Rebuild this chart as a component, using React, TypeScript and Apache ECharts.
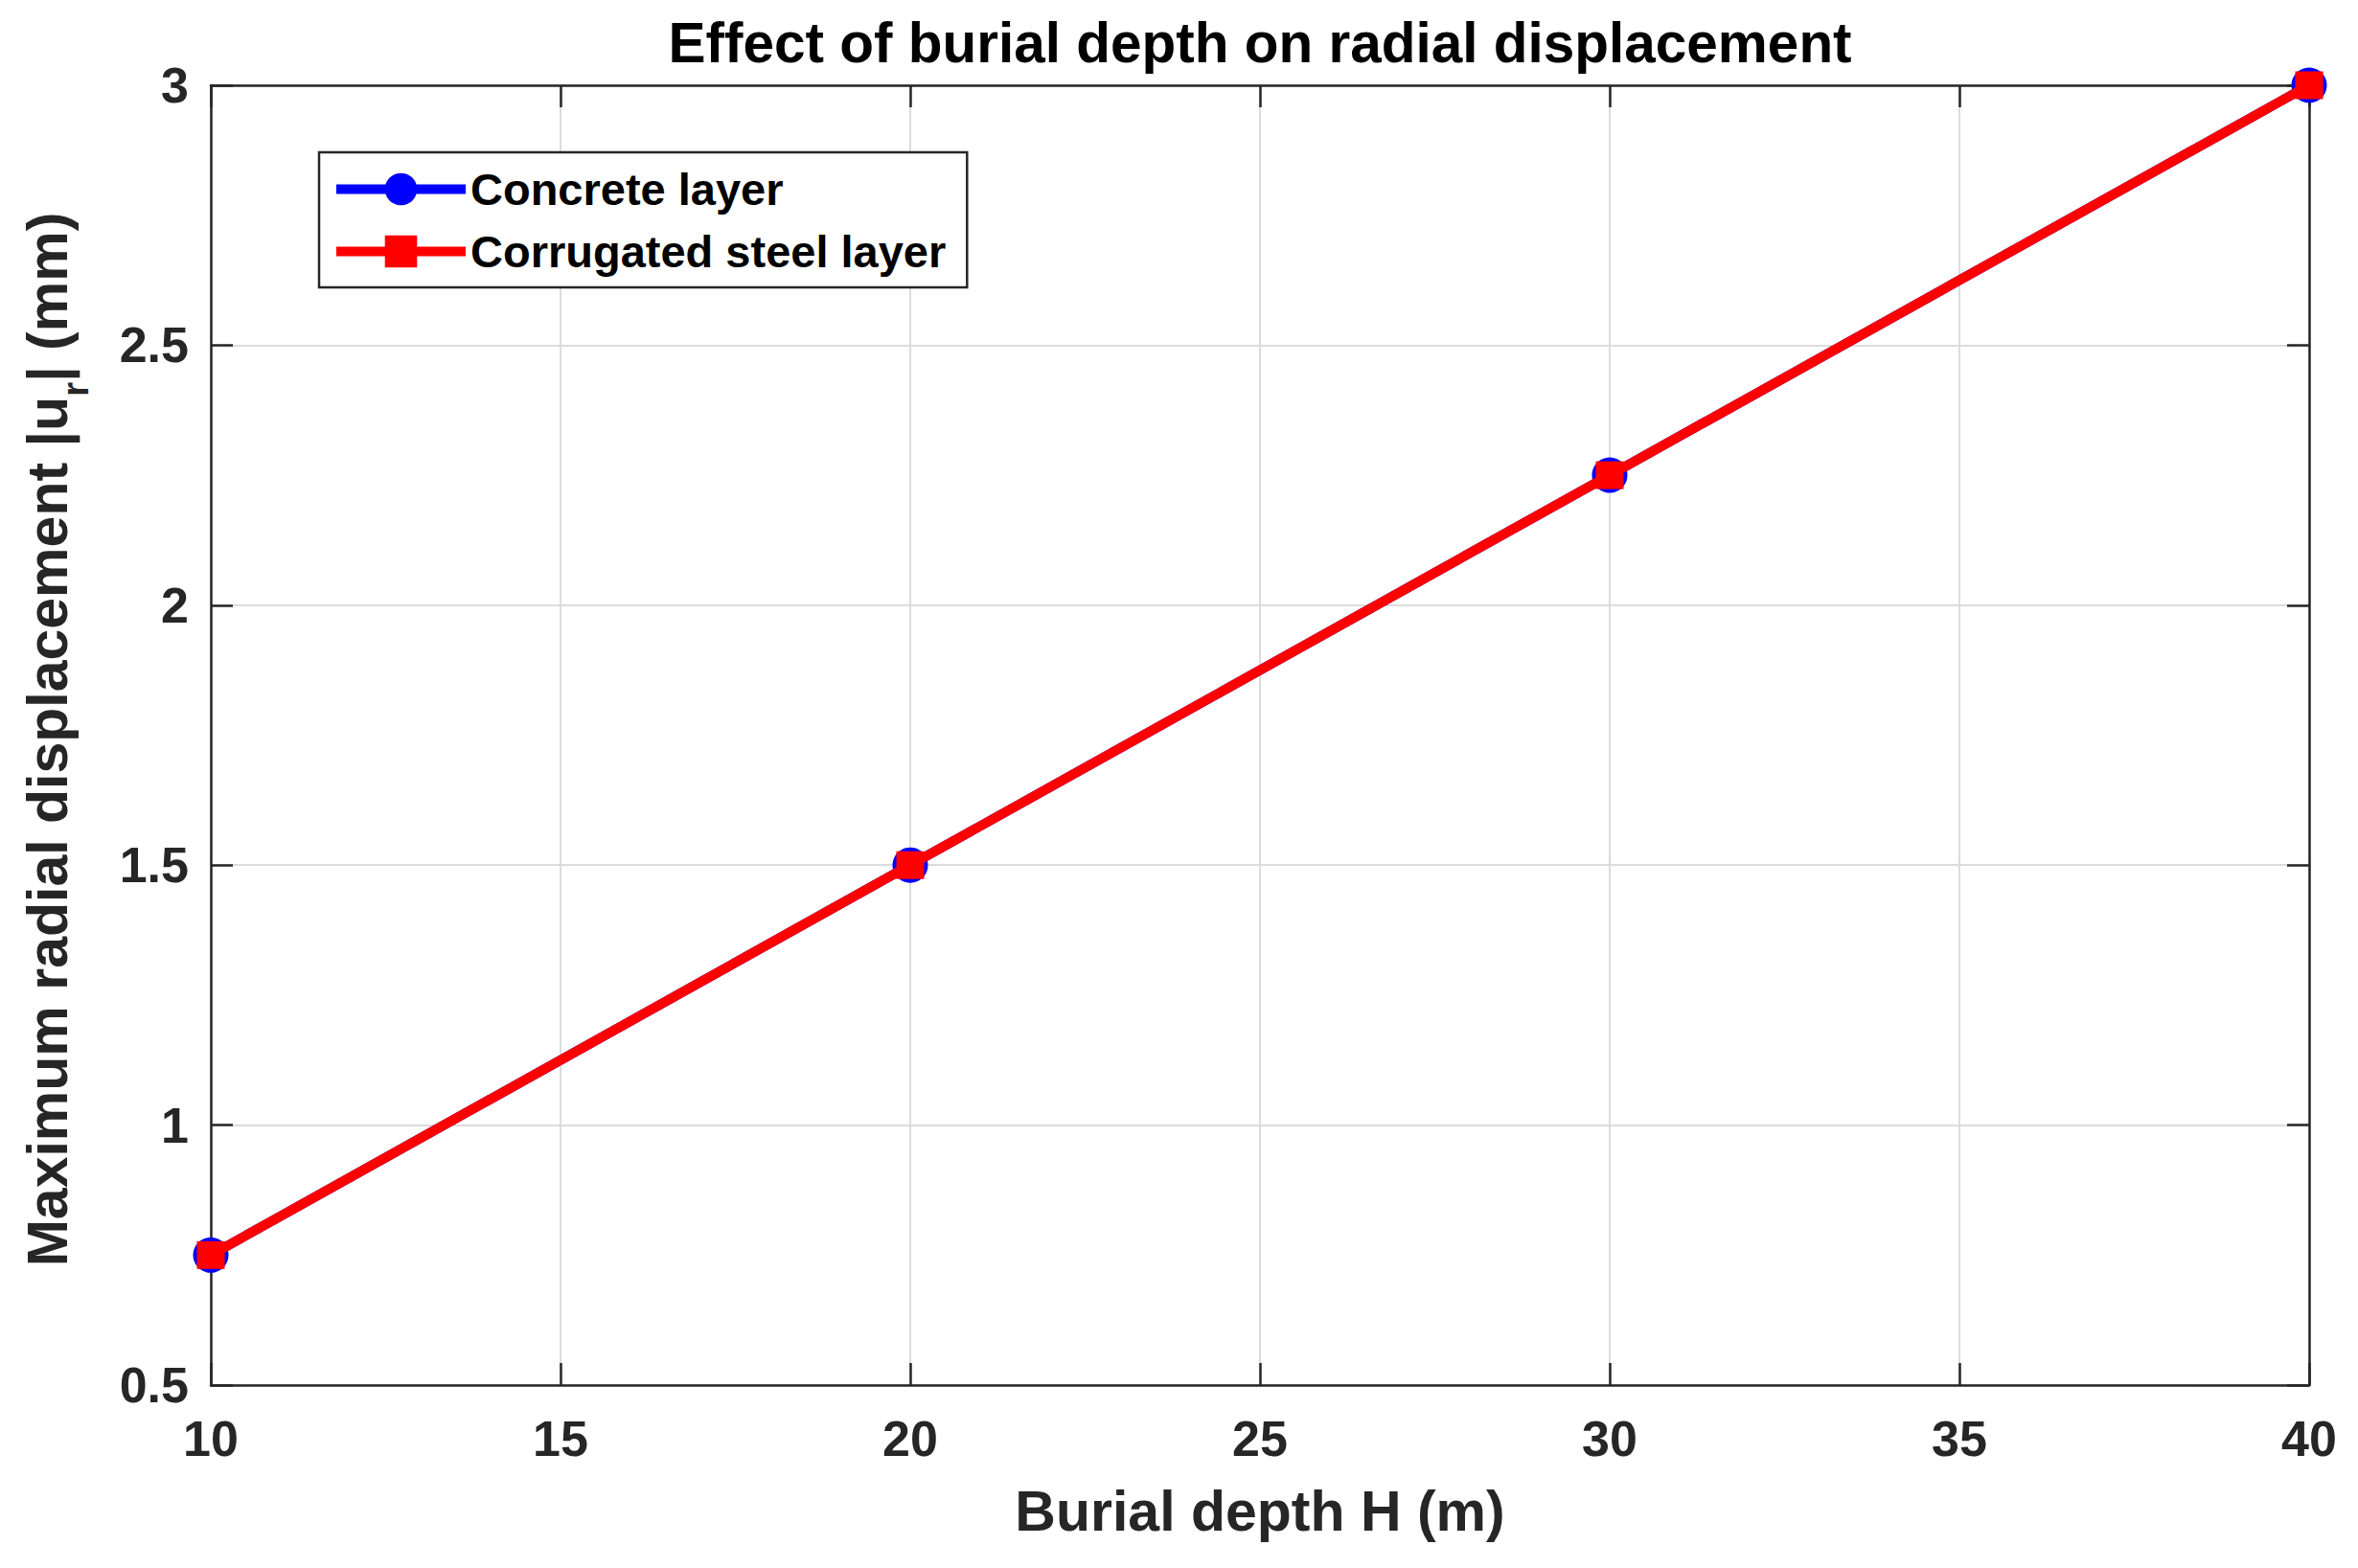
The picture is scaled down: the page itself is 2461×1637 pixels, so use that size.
import React, { useEffect, useRef } from "react";
import * as echarts from "echarts";

const depths = [10, 20, 30, 40];
const concrete = [0.75, 1.5, 2.25, 3.0];
const corrugated = [0.75, 1.5, 2.25, 3.0];
const seriesNames = ["Concrete layer", "Corrugated steel layer"];
const titleText = "Effect of burial depth on radial displacement";
const xLabel = "Burial depth H (m)";
const yLabelParts = ["Maximum radial displacement |u", "r", "| (mm)"];
const xRange = { min: 10, max: 40, interval: 5 };
const yRange = { min: 0.5, max: 3, interval: 0.5 };

const FONT = "'Liberation Sans', Arial, Helvetica, sans-serif";
const AX = "#262626";

export default function App() {
  const ref = useRef<HTMLDivElement>(null);
  useEffect(() => {
    document.body.style.margin = "0";
    const chart = echarts.init(ref.current!, null, { renderer: "svg" });
    const gridL = 220, gridT = 89, gridW = 2190, gridH = 1357;
    const axisCommon = {
      type: "value",
      axisLine: { show: true, lineStyle: { color: AX, width: 2.5 } },
      axisTick: { show: true, inside: true, length: 23, lineStyle: { color: AX, width: 2.5 } },
    };
    const option: any = {
      animation: false,
      backgroundColor: "#ffffff",
      grid: { left: gridL, top: gridT, width: gridW, height: gridH, containLabel: false },
      xAxis: [
        {
          ...axisCommon,
          ...xRange,
          position: "bottom",
          axisLabel: { fontSize: 52, fontWeight: "bold", color: AX, fontFamily: FONT, margin: 30 },
          splitLine: { show: true, lineStyle: { color: "#dcdcdc", width: 2 } },
        },
        {
          ...axisCommon,
          ...xRange,
          position: "top",
          axisLabel: { show: false },
          splitLine: { show: false },
        },
      ],
      yAxis: [
        {
          ...axisCommon,
          ...yRange,
          position: "left",
          axisLabel: { fontSize: 52, fontWeight: "bold", color: AX, fontFamily: FONT, margin: 23 },
          splitLine: { show: true, lineStyle: { color: "#dcdcdc", width: 2 } },
        },
        {
          ...axisCommon,
          ...yRange,
          position: "right",
          axisLabel: { show: false },
          splitLine: { show: false },
        },
      ],
      legend: {
        orient: "vertical",
        left: 333,
        top: 159,
        padding: [15, 22, 14, 13],
        itemGap: 18,
        itemWidth: 135,
        itemHeight: 42,
        borderColor: AX,
        borderWidth: 2.5,
        backgroundColor: "#ffffff",
        lineStyle: { width: 10 },
        textStyle: { fontSize: 47, fontWeight: "bold", color: "#000000", fontFamily: FONT },
        data: seriesNames,
      },
      series: [
        {
          name: seriesNames[0],
          type: "line",
          xAxisIndex: 0,
          yAxisIndex: 0,
          data: depths.map((d, i) => [d, concrete[i]]),
          symbol: "circle",
          symbolSize: 37,
          clip: false,
          lineStyle: { color: "#0000ff", width: 10 },
          itemStyle: { color: "#0000ff" },
          z: 3,
        },
        {
          name: seriesNames[1],
          type: "line",
          xAxisIndex: 0,
          yAxisIndex: 0,
          data: depths.map((d, i) => [d, corrugated[i]]),
          symbol: "rect",
          symbolSize: 29,
          clip: false,
          lineStyle: { color: "#ff0000", width: 10 },
          itemStyle: { color: "#ff0000" },
          z: 4,
        },
      ],
      graphic: [
        {
          type: "text",
          x: gridL + gridW / 2,
          y: 44,
          style: {
            text: titleText,
            fontSize: 58.5,
            fontWeight: "bold",
            fontFamily: FONT,
            fill: "#000000",
            align: "center",
            verticalAlign: "middle",
          },
        },
        {
          type: "text",
          x: gridL + gridW / 2,
          y: 1578,
          style: {
            text: xLabel,
            fontSize: 59,
            fontWeight: "bold",
            fontFamily: FONT,
            fill: AX,
            align: "center",
            verticalAlign: "middle",
          },
        },
        {
          type: "text",
          x: 50,
          y: 772,
          rotation: Math.PI / 2,
          style: {
            text: `{a|${yLabelParts[0]}}{s|${yLabelParts[1]}}{a|${yLabelParts[2]}}`,
            fontSize: 59,
            fontWeight: "bold",
            fontFamily: FONT,
            fill: AX,
            align: "center",
            verticalAlign: "middle",
            rich: {
              a: { fontSize: 59, fontWeight: "bold", fontFamily: FONT, fill: AX, lineHeight: 96 },
              s: { fontSize: 39, fontWeight: "bold", fontFamily: FONT, fill: AX, lineHeight: 39, verticalAlign: "bottom" },
            },
          },
        },
      ],
    };
    chart.setOption(option);
    return () => chart.dispose();
  }, []);
  return <div ref={ref} style={{ width: 2461, height: 1637 }} />;
}
